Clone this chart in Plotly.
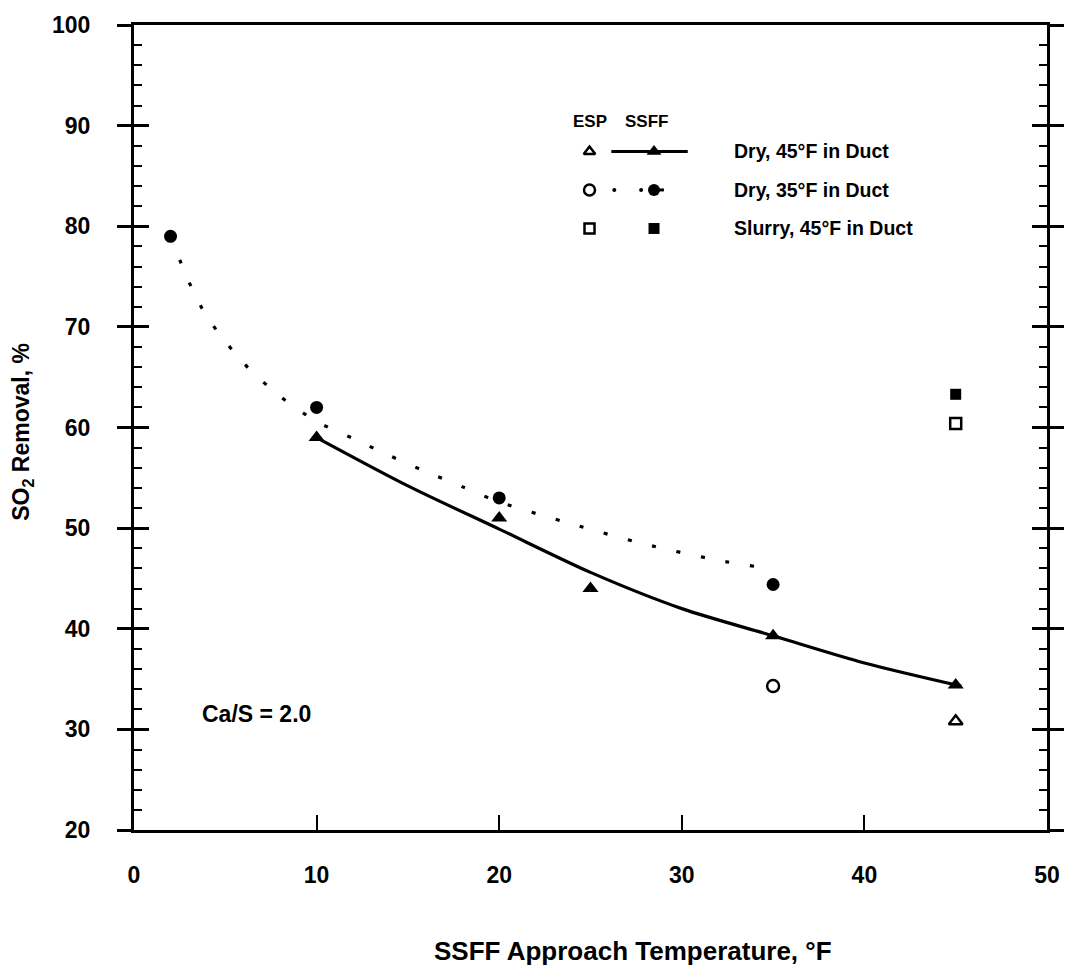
import plotly.graph_objects as go

# ---- measured points ----
# SSFF, dry, 45°F in duct (filled triangles)
ssff45_x = [10, 20, 25, 35, 45]
ssff45_y = [59, 51, 44, 39.3, 34.4]
# ESP, dry, 45°F in duct (open triangle)
esp45_x = [45]
esp45_y = [30.8]
# SSFF, dry, 35°F in duct (filled circles)
ssff35_x = [2, 10, 20, 35]
ssff35_y = [79, 62, 53, 44.4]
# ESP, dry, 35°F in duct (open circle)
esp35_x = [35]
esp35_y = [34.3]
# Slurry, 45°F in duct
slurry_ssff_x = [45]
slurry_ssff_y = [63.3]
slurry_esp_x = [45]
slurry_esp_y = [60.4]

# ---- hand-drawn trend curves ----
fit45_x = [10, 15, 20, 25, 30, 35, 40, 45.3]
fit45_y = [59, 54.2, 49.9, 45.6, 42.0, 39.3, 36.6, 34.3]
fit35_x = [2, 3, 4, 6, 8, 10, 12, 14, 16, 18, 20, 24, 28, 32, 34]
fit35_y = [79, 74.5, 71, 66.4, 63.1, 60.6, 58.9, 57.2, 55.6, 54.1, 52.6, 50.4, 48.4, 46.8, 46.2]

x_ticks = [0, 10, 20, 30, 40, 50]

FONT = "Liberation Sans, Arial, Helvetica, sans-serif"
BLACK = "black"

# figure geometry (pixels)
W, H = 1076, 978
ML, MR, MT, MB = 134, 22, 15, 148
PX_L, PX_R = ML, W - MR
PX_T, PX_B = MT, H - MB

fig = go.Figure()

# trend curves
fig.add_trace(go.Scatter(x=fit45_x, y=fit45_y, mode="lines",
                         line=dict(color=BLACK, width=3.2, shape="spline", smoothing=0.8),
                         hoverinfo="skip", showlegend=False))
fig.add_trace(go.Scatter(x=fit35_x, y=fit35_y, mode="lines",
                         line=dict(color=BLACK, width=3.2, shape="spline", smoothing=0.8,
                                   dash="4px,21px"),
                         hoverinfo="skip", showlegend=False))

# data markers
def markers(xs, ys, symbol, size, lw=0):
    fig.add_trace(go.Scatter(x=xs, y=ys, mode="markers",
                             marker=dict(symbol=symbol, size=size, color=BLACK,
                                         line=dict(color=BLACK, width=lw)),
                             showlegend=False))

markers(ssff45_x, ssff45_y, "triangle-up", 14)
markers(esp45_x, esp45_y, "triangle-up-open", 12, 2.5)
markers(ssff35_x, ssff35_y, "circle", 13)
markers(esp35_x, esp35_y, "circle-open", 12, 2.5)
markers(slurry_ssff_x, slurry_ssff_y, "square", 11)
markers(slurry_esp_x, slurry_esp_y, "square-open", 11, 2.5)

# placeholder so the inner-tick y axis is drawn
fig.add_trace(go.Scatter(x=[None], y=[None], yaxis="y2", showlegend=False, hoverinfo="skip"))

# ---- key (drawn on a pixel-space overlay axis) ----
key_rows = [143, 182, 221]
esp_col, ssff_col, text_col = 593, 658, 737
key_labels = ["Dry, 45°F in Duct", "Dry, 35°F in Duct", "Slurry, 45°F in Duct"]

def key_trace(xs, ys, **kw):
    fig.add_trace(go.Scatter(x=xs, y=ys, xaxis="x2", yaxis="y3", showlegend=False,
                             hoverinfo="skip", cliponaxis=False, **kw))

# row 1: solid line with filled triangle, open triangle for ESP
key_trace([615, 692], [key_rows[0]] * 2, mode="lines", line=dict(color=BLACK, width=3))
key_trace([ssff_col], [key_rows[0]], mode="markers",
          marker=dict(symbol="triangle-up", size=13, color=BLACK))
key_trace([esp_col], [key_rows[0]], mode="markers",
          marker=dict(symbol="triangle-up-open", size=10, color=BLACK, line=dict(width=2.5)))
# row 2: dotted line with filled circle
key_trace([618, 645], [key_rows[1]] * 2, mode="markers",
          marker=dict(symbol="circle", size=4, color=BLACK))
key_trace([658, 668], [key_rows[1]] * 2, mode="lines", line=dict(color=BLACK, width=3))
key_trace([ssff_col], [key_rows[1]], mode="markers",
          marker=dict(symbol="circle", size=12, color=BLACK))
key_trace([esp_col], [key_rows[1]], mode="markers",
          marker=dict(symbol="circle-open", size=11, color=BLACK, line=dict(width=2.5)))
# row 3: squares
key_trace([ssff_col], [key_rows[2]], mode="markers",
          marker=dict(symbol="square", size=11, color=BLACK))
key_trace([esp_col], [key_rows[2]], mode="markers",
          marker=dict(symbol="square-open", size=10, color=BLACK, line=dict(width=2.5)))

annotations = []
for y, label in zip(key_rows, key_labels):
    annotations.append(dict(x=text_col, y=y, xref="x2", yref="y3", text=label,
                            showarrow=False, xanchor="left", yanchor="middle",
                            font=dict(family=FONT, size=19.5, color=BLACK, weight="bold")))
annotations.append(dict(x=esp_col, y=113, xref="x2", yref="y3", text="ESP",
                        showarrow=False, xanchor="center", yanchor="middle",
                        font=dict(family=FONT, size=17, color=BLACK, weight="bold")))
annotations.append(dict(x=650, y=113, xref="x2", yref="y3", text="SSFF",
                        showarrow=False, xanchor="center", yanchor="middle",
                        font=dict(family=FONT, size=17, color=BLACK, weight="bold")))

# Ca/S note
annotations.append(dict(x=6.7, y=31.5, xref="x", yref="y", text="Ca/S = 2.0",
                        showarrow=False, xanchor="center", yanchor="middle",
                        font=dict(family=FONT, size=23, color=BLACK, weight="bold")))

# axis titles
pw, ph = PX_R - PX_L, PX_B - PX_T
annotations.append(dict(x=(637 - PX_L) / pw, y=1 - (953 - PX_T) / ph, xref="paper", yref="paper",
                        text="SSFF Approach Temperature, °F", showarrow=False,
                        xanchor="center", yanchor="middle",
                        font=dict(family=FONT, size=26, color=BLACK, weight="bold")))
annotations.append(dict(x=(22 - PX_L) / pw, y=1 - (427 - PX_T) / ph, xref="paper", yref="paper",
                        text="SO<sub>2</sub> Removal, %", showarrow=False, textangle=-90,
                        xanchor="center", yanchor="middle",
                        font=dict(family=FONT, size=23, color=BLACK, weight="bold")))

tickfont = dict(family=FONT, size=23, color=BLACK, weight="bold")

fig.update_layout(
    width=W, height=H,
    margin=dict(l=ML, r=MR, t=MT, b=MB, pad=0),
    paper_bgcolor="white", plot_bgcolor="white",
    showlegend=False,
    annotations=annotations,
    xaxis=dict(range=[0, 50], tickvals=x_ticks, ticks="inside", ticklen=15, tickwidth=2,
               tickcolor=BLACK, showline=True, linewidth=3, linecolor=BLACK, mirror=True,
               showgrid=False, zeroline=False, tickfont=tickfont, ticklabelstandoff=22),
    yaxis=dict(range=[20, 100], dtick=10, ticks="outside", ticklen=14, tickwidth=2.5,
               tickcolor=BLACK, showline=True, linewidth=3, linecolor=BLACK, mirror="ticks",
               showgrid=False, zeroline=False, tickfont=tickfont, ticklabelstandoff=22),
    yaxis2=dict(range=[20, 100], overlaying="y", side="left", dtick=10, ticks="inside",
                ticklen=15, tickwidth=2.5, tickcolor=BLACK, showline=True, linewidth=3,
                linecolor=BLACK, mirror="ticks", showgrid=False, zeroline=False,
                showticklabels=False,
                minor=dict(dtick=2, ticks="inside", ticklen=8, tickwidth=2, tickcolor=BLACK,
                           showgrid=False)),
    xaxis2=dict(range=[PX_L, PX_R], overlaying="x", visible=False, fixedrange=True),
    yaxis3=dict(range=[PX_B, PX_T], overlaying="y", visible=False, fixedrange=True),
)

fig.write_html("out.html")
